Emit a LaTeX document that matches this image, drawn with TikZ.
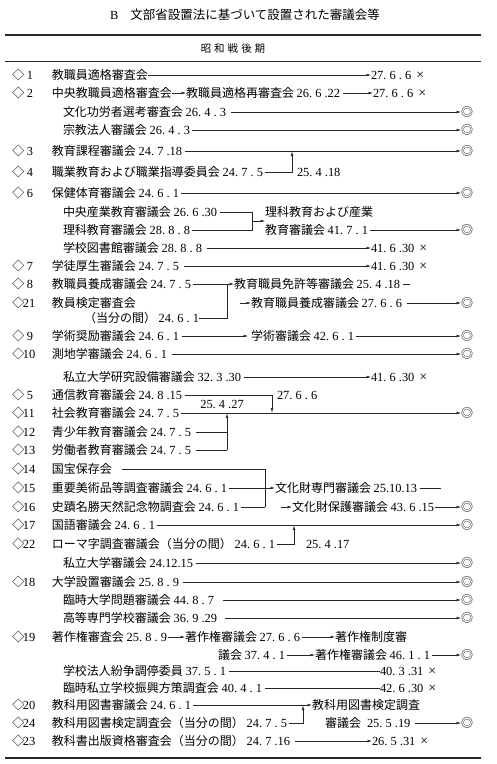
\documentclass[tikz,border=0pt]{standalone}
\usepackage{fontspec}
\setmainfont{Noto Sans CJK JP}
\newfontfamily\dgfont{Liberation Serif}
\usetikzlibrary{arrows.meta}
\newcommand\D[1]{{\dgfont\fontsize{12.4}{14}\selectfont #1}}
\newcommand\X{\hspace{5pt}{\dgfont\fontsize{14}{14}\selectfont ×}}
\newcommand\fs{\fontsize{12}{14}\selectfont}
\frenchspacing
\tikzset{
 t/.style={anchor=west,inner sep=0pt,outer sep=0pt,font=\fs},
 c/.style={inner sep=0pt,outer sep=0pt,font=\fs},
 ln/.style={line width=0.55pt,draw=black!85},
 ar/.style={ln,-{Latex[length=4.5pt,width=2.8pt]}},
 ga/.style={shorten <=2.5pt},
 rule/.style={line width=1.4pt,draw=black!85},
}
\begin{document}
\begin{tikzpicture}[x=1pt,y=-1pt]
\useasboundingbox (0,0) rectangle (496,764);
% title and rules
\node[t,font=\fontsize{12.5}{14}\selectfont] (title) at (110,15) {\D{B}\hspace{12pt}文部省設置法に基づいて設置された審議会等};
\draw[rule] (5,35) -- (481,35);
\node[c,font=\fontsize{10.5}{12}\selectfont] (hdr) at (233,49) {昭\hspace{3pt}和\hspace{3pt}戦\hspace{3pt}後\hspace{3pt}期};
\draw[line width=0.9pt,draw=black!85] (5,61) -- (481,61);
\draw[rule] (5,758) -- (481,758);
% diamonds and numbers
\foreach \n/\yy/\xx in {1/75/27,2/93/27,3/151/27,4/172/27,6/193/27,7/266/27,8/284/27,21/303/23,9/336/27,10/354/23,5/395/27,11/413/23,12/432/23,13/450/23,14/469/23,15/488/23,16/507/23,17/525/23,22/544/23,18/582/23,19/637/23,20/705/23,24/723/23,23/741/23}{
  \node[t] (d\n) at (12.5,\yy) {◇};
  \node[t] (n\n) at (\xx,\yy) {\D{\n}};
}
% row 1
\node[t] (r1) at (52,75) {教職員適格審査会};
\node[t] (e1) at (371,75) {\D{27. 6 . 6}\X};
\draw[ar] (r1) -- (e1);
% row 2
\node[t] (r2a) at (52,93) {中央教職員適格審査会};
\node[t] (r2b) at (186,93) {教職員適格再審査会 \D{26. 6 .22}};
\node[t] (e2) at (373,93) {\D{27. 6 . 6}\X};
\draw[ar] (r2a) -- (r2b);
\draw[ar,ga] (r2b) -- (e2);
% bunka
\node[t] (r3a) at (63,112) {文化功労者選考審査会 \D{26. 4 . 3}};
\node[c] (m3a) at (467,112) {◎};
\draw[ar,shorten <=5pt] (r3a) -- (m3a);
\node[t] (r3b) at (63,130) {宗教法人審議会 \D{26. 4 . 3}};
\node[c] (m3b) at (467,130) {◎};
\draw[ar,ga] (r3b) -- (m3b);
% 3 and 4
\node[t] (r3) at (52,151) {教育課程審議会 \D{24. 7 .18}};
\node[c] (m3) at (467,151) {◎};
\draw[ar,ga] (r3) -- (m3);
\node[t] (r4) at (52,172) {職業教育および職業指導委員会 \D{24. 7 . 5}};
\node[t] (l4) at (297,172) {\D{25. 4 .18}};
\coordinate (j4) at (292,151.5);
\draw[ar,ga] (r4) -| (j4);
% 6
\node[t] (r6) at (52,193) {保健体育審議会 \D{24. 6 . 1}};
\node[c] (m6) at (467,193) {◎};
\draw[ar,ga] (r6) -- (m6);
\node[t] (r6a) at (63,212) {中央産業教育審議会 \D{26. 6 .30}};
\node[t] (r6b) at (63,230) {理科教育審議会 \D{28. 8 . 8}};
\node[t] (r6c) at (265,212) {理科教育および産業};
\node[t] (r6d) at (265,230) {教育審議会 \D{41. 7 . 1}};
\node[c] (m6d) at (467,230) {◎};
\coordinate (b6) at (252,221);
\draw[ln,ga] (r6a) -| (b6);
\draw[ln,ga] (r6b) -| (b6);
\draw[ar] (b6) -- (b6 -| r6d.west);
\draw[ar,ga] (r6d) -- (m6d);
\node[t] (r6e) at (63,248) {学校図書館審議会 \D{28. 8 . 8}};
\node[t] (e6e) at (371,248) {\D{41. 6 .30}\X};
\draw[ar,shorten <=5pt] (r6e) -- (e6e);
% 7
\node[t] (r7) at (52,266) {学徒厚生審議会 \D{24. 7 . 5}};
\node[t] (e7) at (371,266) {\D{41. 6 .30}\X};
\draw[ar,shorten <=5pt] (r7) -- (e7);
% 8 and 21
\node[t] (r8) at (52,284) {教職員養成審議会 \D{24. 7 . 5}};
\node[t] (r8c) at (234,284) {教育職員免許等審議会 \D{25. 4 .18}};
\coordinate (s8) at (410,284);
\coordinate (b8a) at (227,284);
\coordinate (b8b) at (227,318);
\node[t] (r21) at (52,303) {教員検定審査会};
\node[c,anchor=east] (r21b) at (199,318) {（当分の間） \D{24. 6 . 1}};
\draw[ln,ga] (r8) -- (b8a) -- (b8b) -- (r21b);
\draw[ar] (b8a) -- (r8c);
\draw[ln,shorten <=3pt] (r8c) -- (s8);
\coordinate (a21) at (240,303);
\node[t] (r21c) at (251,303) {教育職員養成審議会 \D{27. 6 . 6}};
\node[c] (m21) at (467,303) {◎};
\draw[ar] (a21) -- (r21c);
\draw[ar,shorten <=5pt] (r21c) -- (m21);
% 9, 10
\node[t] (r9) at (52,336) {学術奨励審議会 \D{24. 6 . 1}};
\node[t] (r9b) at (251,336) {学術審議会 \D{42. 6 . 1}};
\node[c] (m9) at (467,336) {◎};
\draw[ar,shorten <=3pt,shorten >=3pt] (r9) -- (r9b);
\draw[ar,ga] (r9b) -- (m9);
\node[t] (r10) at (52,354) {測地学審議会 \D{24. 6 . 1}};
\node[c] (m10) at (467,354) {◎};
\draw[ar,shorten <=5pt] (r10) -- (m10);
\node[t] (r10b) at (63,377) {私立大学研究設備審議会 \D{32. 3 .30}};
\node[t] (e10b) at (371,377) {\D{41. 6 .30}\X};
\draw[ar,ga] (r10b) -- (e10b);
% 5, 11, 12, 13
\node[t] (r5) at (52,395) {通信教育審議会 \D{24. 8 .15}};
\node[t] (l5) at (277,395) {\D{27. 6 . 6}};
\coordinate (j5) at (272,412.5);
\draw[ar,ga] (r5) -| (j5);
\node[t] (r11) at (52,413) {社会教育審議会 \D{24. 7 . 5}};
\node[c] (m11) at (467,413) {◎};
\draw[ar,ga] (r11) -- (m11);
\node[c] (l11) at (222,404) {\D{25. 4 .27}};
\node[t] (r12) at (52,432) {青少年教育審議会 \D{24. 7 . 5}};
\node[t] (r13) at (52,450) {労働者教育審議会 \D{24. 7 . 5}};
\coordinate (j11) at (227,413.5);
\coordinate (b12) at (227,432);
\coordinate (b13) at (227,450);
\draw[ln,shorten <=5pt] (r12) -- (b12);
\draw[ln,shorten <=5pt] (r13) -- (b13);
\draw[ar] (b13) -- (j11);
% 14, 15, 16
\node[t] (r14) at (52,469) {国宝保存会};
\node[t] (r15) at (52,488) {重要美術品等調査審議会 \D{24. 6 . 1}};
\node[t] (r16) at (52,507) {史蹟名勝天然記念物調査会 \D{24. 6 . 1}};
\coordinate (b14) at (265,469);
\coordinate (b15) at (265,488);
\coordinate (b16) at (265,507);
\draw[ln,shorten <=10pt] (r14) -- (b14) -- (b16);
\draw[ln,ga] (r15) -- (b15);
\draw[ln,ga] (r16) -- (b16);
\node[t] (r15c) at (275,488) {文化財専門審議会 \D{25.10.13}};
\coordinate (s15) at (441,488);
\draw[ar] (b15) -- (r15c);
\draw[ln,shorten <=3pt] (r15c) -- (s15);
\coordinate (a16) at (281,507);
\node[t] (r16c) at (292,507) {文化財保護審議会 \D{43. 6 .15}};
\node[c] (m16) at (467,507) {◎};
\draw[ar] (a16) -- (r16c);
\draw[ar,shorten <=1pt] (r16c) -- (m16);
% 17, 22
\node[t] (r17) at (52,525) {国語審議会 \D{24. 6 . 1}};
\node[c] (m17) at (467,525) {◎};
\draw[ar,ga] (r17) -- (m17);
\node[t] (r22) at (52,544) {ローマ字調査審議会（当分の間） \D{24. 6 . 1}};
\node[t] (l22) at (306,544) {\D{25. 4 .17}};
\coordinate (j22) at (294,525.5);
\draw[ar,ga] (r22) -| (j22);
\node[t] (r22b) at (63,563) {私立大学審議会 \D{24.12.15}};
\node[c] (m22b) at (467,563) {◎};
\draw[ar,ga] (r22b) -- (m22b);
% 18
\node[t] (r18) at (52,582) {大学設置審議会 \D{25. 8 . 9}};
\node[c] (m18) at (467,582) {◎};
\draw[ar,shorten <=4pt] (r18) -- (m18);
\node[t] (r18b) at (63,600) {臨時大学問題審議会 \D{44. 8 . 7}};
\node[c] (m18b) at (467,600) {◎};
\draw[ar,shorten <=9pt] (r18b) -- (m18b);
\node[t] (r18c) at (63,618) {高等専門学校審議会 \D{36. 9 .29}};
\node[c] (m18c) at (467,618) {◎};
\draw[ar,shorten <=8pt] (r18c) -- (m18c);
% 19
\node[t] (r19a) at (52,637) {著作権審査会 \D{25. 8 . 9}};
\node[t] (r19b) at (185,637) {著作権審議会 \D{27. 6 . 6}};
\node[t] (r19c) at (335,637) {著作権制度審};
\draw[ar,shorten <=1pt] (r19a) -- (r19b);
\draw[ar,shorten <=2pt] (r19b) -- (r19c);
\node[t] (r19d) at (218,655) {議会 \D{37. 4 . 1}};
\node[t] (r19e) at (315,655) {著作権審議会 \D{46. 1 . 1}};
\node[c] (m19) at (467,655) {◎};
\draw[ar,shorten <=2pt] (r19d) -- (r19e);
\draw[ar,shorten <=2pt] (r19e) -- (m19);
\node[t] (r19f) at (63,671) {学校法人紛争調停委員 \D{37. 5 . 1}};
\node[t] (e19f) at (380,671) {\D{40. 3 .31}\X};
\draw[ln,shorten <=3pt] (r19f) -- (e19f);
\node[t] (r19g) at (63,688) {臨時私立学校振興方策調査会 \D{40. 4 . 1}};
\node[t] (e19g) at (380,688) {\D{42. 6 .30}\X};
\draw[ln,shorten <=3pt] (r19g) -- (e19g);
% 20, 24, 23
\node[t] (r20) at (52,705) {教科用図書審議会 \D{24. 6 . 1}};
\node[t] (r20b) at (312,705) {教科用図書検定調査};
\draw[ar,ga] (r20) -- (r20b);
\node[t] (r24) at (52,723) {教科用図書検定調査会（当分の間） \D{24. 7 . 5}};
\coordinate (j24) at (303,705.5);
\draw[ar,ga] (r24) -| (j24);
\node[t] (r24b) at (325,723) {審議会\hspace{6pt}\D{25. 5 .19}};
\node[c] (m24) at (467,723) {◎};
\draw[ar,shorten <=5pt] (r24b) -- (m24);
\node[t] (r23) at (52,741) {教科書出版資格審査会（当分の間） \D{24. 7 .16}};
\node[t] (e23) at (372,741) {\D{26. 5 .31}\X};
\draw[ar,shorten <=5pt] (r23) -- (e23);
\end{tikzpicture}
\end{document}
